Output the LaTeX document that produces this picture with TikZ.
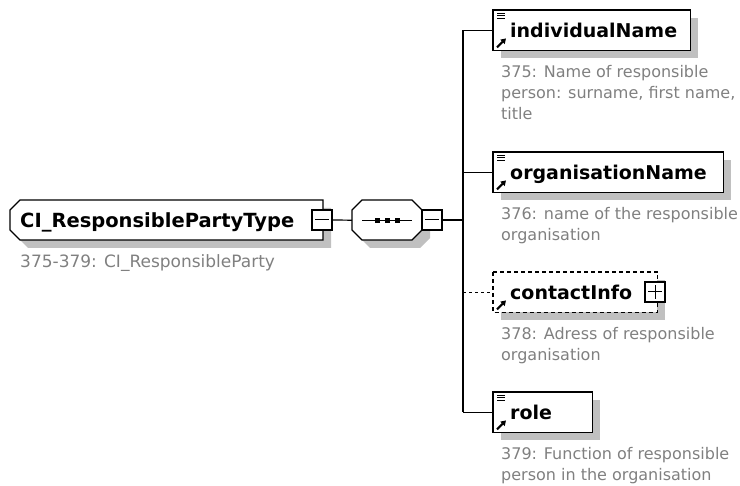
\documentclass[tikz,border=0pt]{standalone}
\usepackage{fontspec}
\setmainfont{DejaVu Sans}
\usetikzlibrary{arrows.meta,calc}
\definecolor{shadowgray}{RGB}{192,192,192}
\definecolor{descgray}{RGB}{128,128,128}
\begin{document}
\begin{tikzpicture}[x=1pt,y=-1pt,
  box/.style={rectangle, inner sep=0pt, minimum height=40pt, anchor=north west},
  pmbox/.style={rectangle, draw, fill=white, line width=1.2pt, inner sep=0pt, minimum size=20pt},
  outline/.style={draw=black, fill=white, line width=1.4pt},
  dashedoutline/.style={draw=black, fill=white, line width=1.3pt, dash pattern=on 4pt off 3pt},
  shade/.style={fill=shadowgray},
  conn/.style={line width=1.2pt, draw=black},
  optconn/.style={line width=1.2pt, draw=black, dash pattern=on 3pt off 3pt},
  etext/.style={inner sep=0pt, anchor=base west, font=\fontsize{19}{22}\selectfont\bfseries},
  maintext/.style={inner sep=0pt, anchor=base west, font=\fontsize{19.5}{22}\selectfont\bfseries},
  desc/.style={inner sep=0pt, anchor=base west, align=left, text=descgray, font=\fontsize{16}{21}\selectfont},
  icon/.style={line width=0.9pt},
  refarrow/.style={line width=2pt, -{Triangle[length=5pt,width=6pt]}}
]
\useasboundingbox (0,0) rectangle (740,486);

% ---------- named frames ----------
\node[box, minimum width=313pt] (main) at (10,200) {};
\node[box, minimum width=70pt] (seq) at (352,200) {};
\node[box, minimum width=197pt] (ind) at (493,10) {};
\node[box, minimum width=230pt] (org) at (493,152) {};
\node[box, minimum width=164pt] (ci) at (493,272) {};
\node[box, minimum width=99pt] (role) at (493,392) {};
\coordinate (split) at (463,220);

% ---------- shadows ----------
\fill[shade] (28,208) -- (331,208) -- (331,248) -- (28,248) -- (18,238) -- (18,218) -- cycle;
\fill[shade] (370,208) -- (420,208) -- (430,218) -- (430,238) -- (420,248) -- (370,248) -- (360,238) -- (360,218) -- cycle;
\foreach \n in {ind,org,ci,role}
  \fill[shade] ([shift={(8,8)}]\n.north west) rectangle ([shift={(8,8)}]\n.south east);

% ---------- main complex type ----------
\draw[outline] (20,200) -- (323,200) -- (323,240) -- (20,240) -- (10,230) -- (10,210) -- cycle;
\node[maintext] (maintxt) at ([shift={(10,7)}]main.west) {CI\_ResponsiblePartyType};
\node[pmbox] (mm) at (322,220) {};
\draw[line width=1pt] ([xshift=4pt]mm.west) -- ([xshift=-4pt]mm.east);
\node[desc, font=\fontsize{17}{21}\selectfont] (maindesc) at ([shift={(10,27)}]main.south west) {375-379: CI\_ResponsibleParty};

% ---------- sequence compositor ----------
\draw[outline] (362,200) -- (412,200) -- (422,210) -- (422,230) -- (412,240) -- (362,240) -- (352,230) -- (352,210) -- cycle;
\draw[line width=1pt] ([xshift=10pt]seq.west) -- ([xshift=-10pt]seq.east);
\foreach \dx in {-12.5,-2.5,7.5}
  \fill ([shift={(\dx,-2.5)}]seq.center) rectangle ++(5,5);
\node[pmbox] (sm) at (432,220) {};
\draw[line width=1pt] ([xshift=4pt]sm.west) -- ([xshift=-4pt]sm.east);

% ---------- connectors ----------
\draw[conn] (mm.east) -- (seq.west);
\draw[conn] (sm.east) -- (split);
\draw[conn] (split |- ind.west) -- (split |- role.west);
\draw[conn] (split |- ind.west) -- (ind.west);
\draw[conn] (split |- org.west) -- (org.west);
\draw[optconn] (split |- ci.west) -- (ci.west);
\draw[conn] (split |- role.west) -- (role.west);

% ---------- element boxes ----------
\draw[outline] (ind.north west) rectangle (ind.south east);
\draw[outline] (org.north west) rectangle (org.south east);
\draw[dashedoutline] (ci.north west) rectangle (ci.south east);
\draw[outline] (role.north west) rectangle (role.south east);

\foreach \n in {ind,org,role}{
  \draw[icon] ([shift={(4,3.4)}]\n.north west) -- ++(8,0);
  \draw[icon] ([shift={(4,5.8)}]\n.north west) -- ++(8,0);
  \draw[icon] ([shift={(4,8.2)}]\n.north west) -- ++(8,0);
}
\foreach \n in {ind,org,ci,role}
  \draw[refarrow] ([shift={(4,-3)}]\n.south west) -- ++(9,-9);

\node[etext] (indtxt) at ([shift={(17,7)}]ind.west) {individualName};
\node[etext] (orgtxt) at ([shift={(17,7)}]org.west) {organisationName};
\node[etext] (citxt) at ([shift={(17,7)}]ci.west) {contactInfo};
\node[etext] (roletxt) at ([shift={(17,7)}]role.west) {role};

\node[pmbox] (cp) at (655,292) {};
\draw[line width=1pt] ([xshift=4pt]cp.west) -- ([xshift=-4pt]cp.east);
\draw[line width=1pt] ([yshift=-4pt]cp.north) -- ([yshift=4pt]cp.south);

% ---------- annotations (base anchor = last line's baseline) ----------
\node[desc] (inddesc) at ([shift={(8,69)}]ind.south west) {375: Name of responsible\\person: surname, first name,\\title};
\node[desc] (orgdesc) at ([shift={(8,48)}]org.south west) {376: name of the responsible\\organisation};
\node[desc] (cidesc) at ([shift={(8,48)}]ci.south west) {378: Adress of responsible\\organisation};
\node[desc] (roledesc) at ([shift={(8,48)}]role.south west) {379: Function of responsible\\person in the organisation};
\end{tikzpicture}
\end{document}
